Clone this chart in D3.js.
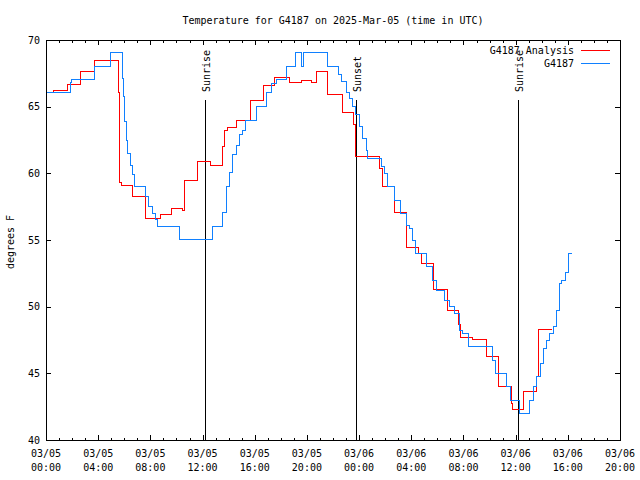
<!DOCTYPE html>
<html><head><meta charset="utf-8">
<script src="https://cdn.jsdelivr.net/npm/d3@7"></script>
<style>
html,body{margin:0;padding:0;background:#fff;}
svg text{font-family:"DejaVu Sans Mono","Liberation Mono",monospace;font-size:10px;fill:#000;}
</style></head>
<body>
<script>
// ---- data (hours since 2025-03-05 00:00 UTC, degrees F) ----
const title = "Temperature for G4187 on 2025-Mar-05 (time in UTC)";
const seriesNames = ["G4187 Analysis", "G4187"];
const seriesColors = ["#ff0000", "#1080ff"];

const analysisHours = [0.0,0.61,1.65,2.68,3.68,5.52,5.60,5.67,5.78,6.63,7.63,8.74,9.62,10.43,10.62,11.61,12.61,13.54,13.72,13.90,14.64,15.68,16.71,17.48,18.67,19.62,20.39,20.70,21.58,22.69,23.56,23.70,25.53,25.83,26.68,27.67,28.59,28.82,29.74,30.74,31.62,31.78,32.66,33.73,34.69,35.65,35.76,36.62,37.60,37.72,38.77];
const analysisTemps = [66.1,66.2,66.7,67.65,68.5,66.1,61.6,59.3,59.1,58.25,56.6,56.95,57.4,57.25,59.5,60.9,60.6,62.0,63.25,63.45,64.0,65.5,66.6,67.2,66.8,67.0,66.8,67.65,65.9,64.6,63.7,61.3,60.4,59.0,57.05,54.45,54.0,53.25,51.3,49.7,48.7,47.7,47.55,46.25,44.05,42.75,42.3,43.65,44.75,48.3,48.3];

const obsHours = [0.0,1.84,1.95,3.68,4.94,5.83,5.94,6.04,6.15,6.27,6.44,6.62,6.80,7.63,7.87,8.13,8.36,8.53,10.2,12.8,13.53,13.8,14.07,14.3,14.57,14.8,15.03,15.33,16.1,16.9,17.25,17.7,18.4,19.09,19.55,19.74,21.6,22.4,22.65,23.0,23.25,23.5,23.76,24.0,24.28,24.53,24.68,25.68,25.93,26.19,26.7,27.14,27.6,27.85,28.1,28.36,29.13,29.64,29.9,30.53,30.92,31.3,31.68,31.94,32.4,34.21,34.42,35.32,35.57,36.28,37.1,37.36,37.62,37.87,38.12,38.38,38.58,38.89,39.15,39.4,39.53,39.86,40.04,40.32];
const obsTemps = [66.05,66.8,67.05,68.0,69.1,67.1,65.75,63.9,62.5,61.5,60.6,59.9,59.05,58.25,57.5,57.0,56.55,56.05,55.05,56.05,57.1,59.0,60.1,61.4,62.1,62.9,63.25,64.0,65.0,66.1,66.75,67.05,68.05,69.1,68.05,69.1,68.05,67.4,66.9,66.05,65.6,65.0,64.4,63.5,62.6,61.75,61.1,60.5,60.0,59.0,58.0,57.0,56.1,55.9,55.0,54.0,53.0,52.0,51.25,50.5,50.0,49.5,48.25,48.0,47.05,46.0,45.0,44.0,43.0,42.0,42.95,44.05,44.75,45.75,46.9,47.5,48.0,48.5,49.75,51.75,52.0,52.6,54.0,54.0];

const sunEventHours = [12.2, 23.76, 36.21];
const sunEventLabels = ["Sunrise", "Sunset", "Sunrise"];

const xTickHours = [0,4,8,12,16,20,24,28,32,36,40,44];
const xTickDates = ["03/05","03/05","03/05","03/05","03/05","03/05","03/06","03/06","03/06","03/06","03/06","03/06"];
const xTickTimes = ["00:00","04:00","08:00","12:00","16:00","20:00","00:00","04:00","08:00","12:00","16:00","20:00"];
const yTicks = [40,45,50,55,60,65,70];
const yLabel = "degrees F";

// ---- layout ----
const W = 640, H = 480;
const L = 46, R = 620, T = 40, B = 440;

const svg = d3.select("body").append("svg").attr("width", W).attr("height", H);
svg.append("rect").attr("width", W).attr("height", H).attr("fill", "#fff");

const x = d3.scaleLinear().domain([0, 44]).range([L, R]);
const y = d3.scaleLinear().domain([40, 70]).range([B, T]);

// ticks
const minorHours = d3.range(0, 45, 1);
const g = svg.append("g").attr("shape-rendering", "crispEdges").attr("stroke", "#000");
minorHours.forEach(h => {
  const len = (h % 4 === 0) ? 5 : 2.5;
  const px = Math.round(x(h)) + 0.5;
  g.append("line").attr("x1", px).attr("x2", px).attr("y1", B).attr("y2", B - len);
  g.append("line").attr("x1", px).attr("x2", px).attr("y1", T).attr("y2", T + len);
});
yTicks.forEach(v => {
  const py = Math.round(y(v)) + 0.5;
  g.append("line").attr("x1", L).attr("x2", L + 5).attr("y1", py).attr("y2", py);
  g.append("line").attr("x1", R).attr("x2", R - 5).attr("y1", py).attr("y2", py);
});

// tick labels
xTickHours.forEach((h, i) => {
  svg.append("text").attr("x", x(h)).attr("y", 457).attr("text-anchor", "middle").text(xTickDates[i]);
  svg.append("text").attr("x", x(h)).attr("y", 471).attr("text-anchor", "middle").text(xTickTimes[i]);
});
yTicks.forEach(v => {
  svg.append("text").attr("x", 40).attr("y", y(v) + 3.5).attr("text-anchor", "end").text(v);
});

// y label
svg.append("text").attr("transform", "translate(14,242) rotate(-90)").attr("text-anchor", "middle").text(yLabel);

// title
svg.append("text").attr("x", 333).attr("y", 24).attr("text-anchor", "middle").text(title);

// sun events
sunEventHours.forEach((h, i) => {
  const px = Math.round(x(h)) + 0.5;
  svg.append("line").attr("x1", px).attr("x2", px).attr("y1", 100).attr("y2", B)
    .attr("stroke", "#000").attr("shape-rendering", "crispEdges");
  svg.append("text").attr("transform", `translate(${px + 4},92) rotate(-90)`)
    .attr("text-anchor", "start").text(sunEventLabels[i]);
});

// series
const line = d3.line().x(d => x(d[0])).y(d => y(d[1])).curve(d3.curveStepAfter);
const analysisData = d3.zip(analysisHours, analysisTemps);
const obsData = d3.zip(obsHours, obsTemps);
[analysisData, obsData].forEach((data, i) => {
  svg.append("path").datum(data).attr("d", line).attr("fill", "none")
    .attr("stroke", seriesColors[i]).attr("stroke-width", 1).attr("shape-rendering", "crispEdges");
});

// legend
seriesNames.forEach((name, i) => {
  const ly = 50 + i * 13;
  svg.append("text").attr("x", 574).attr("y", ly + 3.5).attr("text-anchor", "end").text(name);
  svg.append("line").attr("x1", 581).attr("x2", 610).attr("y1", ly + 0.5).attr("y2", ly + 0.5)
    .attr("stroke", seriesColors[i]).attr("shape-rendering", "crispEdges");
});

// border
svg.append("rect").attr("x", L + 0.5).attr("y", T + 0.5).attr("width", R - L).attr("height", B - T)
  .attr("fill", "none").attr("stroke", "#000").attr("shape-rendering", "crispEdges");
</script>
</body></html>
